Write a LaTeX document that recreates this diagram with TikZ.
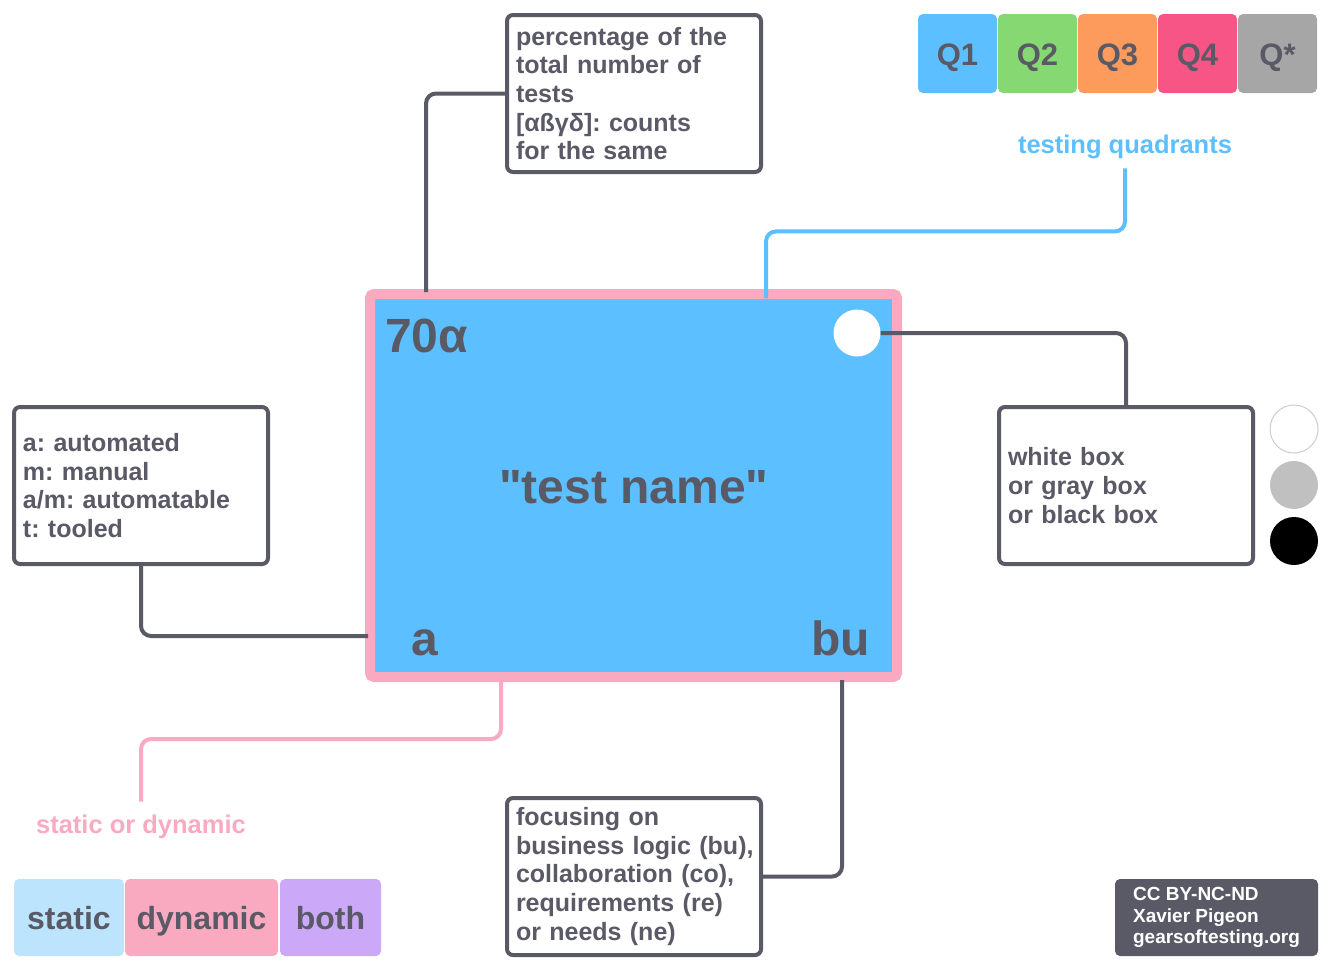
\documentclass[tikz,border=0pt]{standalone}
\usepackage{fontspec}
\setmainfont{Liberation Sans}[Ligatures=TeXOff]
\usetikzlibrary{calc}
\definecolor{ink}{HTML}{5A5966}
\definecolor{qblue}{HTML}{5CBFFF}
\definecolor{qgreen}{HTML}{86D972}
\definecolor{qorange}{HTML}{FD9B5D}
\definecolor{qred}{HTML}{F75585}
\definecolor{qgray}{HTML}{A6A6A6}
\definecolor{pinkb}{HTML}{F9AAC1}
\definecolor{lblue}{HTML}{BDE4FD}
\definecolor{lviolet}{HTML}{CBA9F8}
\definecolor{cgray}{HTML}{C0C0C0}
\newcommand{\fsz}[2]{\fontsize{#1}{#2}\selectfont}
\frenchspacing
\begin{document}
\begin{tikzpicture}[x=1pt,y=-1pt,
  every node/.style={outer sep=0pt},
  infobox/.style={draw=ink, line width=4pt, rounded corners=6pt, fill=white, text width=236pt, inner xsep=9pt, inner ysep=0pt, minimum height=157pt, align=left, anchor=north west, text=ink, font=\fsz{25}{28.6}\bfseries},
  qbox/.style={minimum width=79pt, minimum height=79pt, rounded corners=5pt, anchor=north west, inner sep=0pt, text=ink, font=\fsz{31}{31}\bfseries, text height=23pt, text depth=0pt},
  sbox/.style={minimum height=77pt, rounded corners=5pt, anchor=north west, inner sep=0pt, text=ink, font=\fsz{32}{32}\bfseries, text height=23pt, text depth=0pt},
  big/.style={text=ink, inner sep=0pt, font=\fsz{48}{48}\bfseries},
  conn/.style={draw=ink, line width=4pt, rounded corners=10pt},
  dot/.style={circle, minimum size=48pt, inner sep=0pt},
]
\useasboundingbox (0,0) rectangle (1332,970);

% main box
\node[draw=pinkb, line width=10pt, fill=qblue, rounded corners=4pt, minimum width=527pt, minimum height=383pt, anchor=north west, inner sep=0pt] (main) at (370,294) {};
\node[big, anchor=base west] (pct) at (385,352) {70α};
\node[big, anchor=base] (tname) at (634,503) {"test name"};
\node[big, anchor=base] (lblA) at (425,655) {a};
\node[big, anchor=base east] (lblBU) at (870,655) {bu};
\node[dot, fill=white, minimum size=47pt] (wcirc) at (857,333) {};

% info boxes
\node[infobox] (topbox) at (507,15) {percentage of the\\total number of\\tests\\{[}αßγδ]: counts\\for the same};
\node[infobox] (leftbox) at (14,407) {a: automated\\m: manual\\a/m: automatable\\t: tooled};
\node[infobox] (rightbox) at (999,407) {white box\\or gray box\\or black box};
\node[infobox] (botbox) at (507,798) {focusing on\\\mbox{business logic (bu),}\\collaboration (co),\\requirements (re)\\or needs (ne)};

% quadrants
\node[qbox, fill=qblue] (q1) at (918,14) {Q1};
\node[qbox, fill=qgreen] (q2) at (998,14) {Q2};
\node[qbox, fill=qorange] (q3) at (1078,14) {Q3};
\node[qbox, fill=qred] (q4) at (1158,14) {Q4};
\node[qbox, fill=qgray] (qs) at (1238,14) {Q*};
\node[inner sep=0pt, text=qblue, font=\fsz{25.5}{25.5}\bfseries, anchor=base] (tq) at (1125,153) {testing quadrants};

% static / dynamic
\node[inner sep=0pt, text=pinkb, font=\fsz{25.5}{25.5}\bfseries, anchor=base] (sodyn) at (141,833) {static or dynamic};
\node[sbox, fill=lblue, minimum width=110pt] (sstatic) at (14,879) {static};
\node[sbox, fill=pinkb, minimum width=153pt] (sdyn) at (125,879) {dynamic};
\node[sbox, fill=lviolet, minimum width=101pt] (sboth) at (280,879) {both};

% box colours
\node[dot, fill=white, draw=cgray!80, line width=1pt] (cw) at (1294,429) {};
\node[dot, fill=cgray] (cg) at (1294,485) {};
\node[dot, fill=black] (cb) at (1294,541) {};

% licence
\node[fill=ink, rounded corners=5pt, minimum width=203pt, minimum height=77pt, anchor=north west, text=white, font=\fsz{19}{21.5}\bfseries, align=left, inner sep=0pt] (cc) at (1115,879) {CC BY-NC-ND\\Xavier Pigeon\\gearsoftesting.org};

% connectors
\draw[conn] (topbox.west) -| ($(main.north west)+(56,-2)$);
\draw[conn] (leftbox.south) |- ($(main.south west)+(-2,-41)$);
\draw[conn] (wcirc.east) -| (rightbox.north);
\draw[conn] ($(main.south west)+(472,3)$) |- (botbox.east);
\draw[conn, draw=pinkb] ($(main.south west)+(131,5)$) -- ++(0,57) -| ([yshift=13pt]sodyn.north);
\draw[conn, draw=qblue] ([yshift=-10pt]tq.south) -- ++(0,63) -| ($(main.north west)+(396,4)$);
\end{tikzpicture}
\end{document}
